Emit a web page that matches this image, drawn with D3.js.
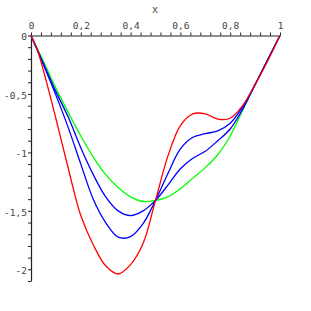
<!DOCTYPE html>
<html>
<head>
<meta charset="utf-8">
<script src="https://cdn.jsdelivr.net/npm/d3@7"></script>
<style>
  body { margin: 0; background: #fff; }
  svg { display: block; }
  .axis text { font-family: "DejaVu Sans Mono", monospace; font-size: 9.5px; fill: #444; }
  .axis path, .axis line { stroke: #222; }
</style>
</head>
<body>
<svg id="chart" width="311" height="311"></svg>
<script>
// values
var xs     = [0, 0.025, 0.05, 0.1, 0.15, 0.2, 0.25, 0.3, 0.35, 0.4, 0.45, 0.5, 0.55, 0.6, 0.65, 0.7, 0.75, 0.8, 0.85, 0.9, 0.95, 1];
var red    = [0, -0.12, -0.30, -0.71, -1.14, -1.54, -1.79, -1.97, -2.04, -1.96, -1.78, -1.41, -1.03, -0.77, -0.67, -0.67, -0.715, -0.708, -0.60, -0.42, -0.22, 0];
var blue1  = [0, -0.125, -0.25, -0.51, -0.79, -1.10, -1.40, -1.60, -1.725, -1.72, -1.61, -1.41, -1.18, -0.97, -0.87, -0.84, -0.815, -0.75, -0.61, -0.42, -0.21, 0];
var blue2  = [0, -0.12, -0.24, -0.48, -0.70, -0.96, -1.19, -1.38, -1.50, -1.54, -1.50, -1.41, -1.28, -1.14, -1.05, -0.99, -0.90, -0.80, -0.63, -0.42, -0.21, 0];
var green  = [0, -0.11, -0.22, -0.45, -0.66, -0.86, -1.04, -1.19, -1.30, -1.38, -1.42, -1.41, -1.38, -1.31, -1.22, -1.13, -1.02, -0.86, -0.64, -0.42, -0.21, 0];

var series = [
    { name: "green", values: green, color: "#00ff00" },
    { name: "blue2", values: blue2, color: "#0000ff" },
    { name: "blue1", values: blue1, color: "#0000ff" },
    { name: "red",   values: red,   color: "#ff0000" }
];

var xTicks = d3.range(0, 1.0001, 0.04);
var yTicks = d3.range(0, -2.1001, -0.1);

var svg = d3.select("#chart");

var x = d3.scaleLinear().domain([0, 1]).range([31, 280]);
var y = d3.scaleLinear().domain([0, -2.1]).range([35.5, 281]);

var fmt = function (d) { return String(+d.toFixed(1)).replace(".", ","); };

svg.append("g")
    .attr("class", "axis x")
    .attr("transform", "translate(0," + y(0) + ")")
    .call(d3.axisTop(x)
        .tickValues(xTicks)
        .tickSize(3)
        .tickSizeOuter(0)
        .tickPadding(4)
        .tickFormat(function (d) {
            var k = Math.round(d / 0.04);
            return k % 5 === 0 ? fmt(d) : "";
        }));

svg.append("g")
    .attr("class", "axis y")
    .attr("transform", "translate(" + x(0) + ",0)")
    .call(d3.axisLeft(y)
        .tickValues(yTicks)
        .tickSize(3)
        .tickSizeOuter(0)
        .tickPadding(1)
        .tickFormat(function (d) {
            var k = Math.round(-d * 10);
            return k % 5 === 0 ? fmt(d) : "";
        }));

svg.selectAll(".axis .domain").attr("stroke-width", 1.2);
svg.select(".axis.y").selectAll("text").attr("dy", "0.45em");

svg.append("text")
    .attr("x", 155)
    .attr("y", 13)
    .attr("text-anchor", "middle")
    .style("font-family", "DejaVu Sans Mono, monospace")
    .style("font-size", "10px")
    .style("fill", "#444")
    .text("x");

var line = d3.line()
    .x(function (d, i) { return x(xs[i]); })
    .y(function (d) { return y(d); })
    .curve(d3.curveCatmullRom.alpha(0.5));

svg.selectAll(".curve")
    .data(series)
    .enter().append("path")
    .attr("class", "curve")
    .attr("fill", "none")
    .attr("stroke", function (d) { return d.color; })
    .attr("stroke-width", 1.3)
    .attr("d", function (d) { return line(d.values); });
</script>
</body>
</html>
